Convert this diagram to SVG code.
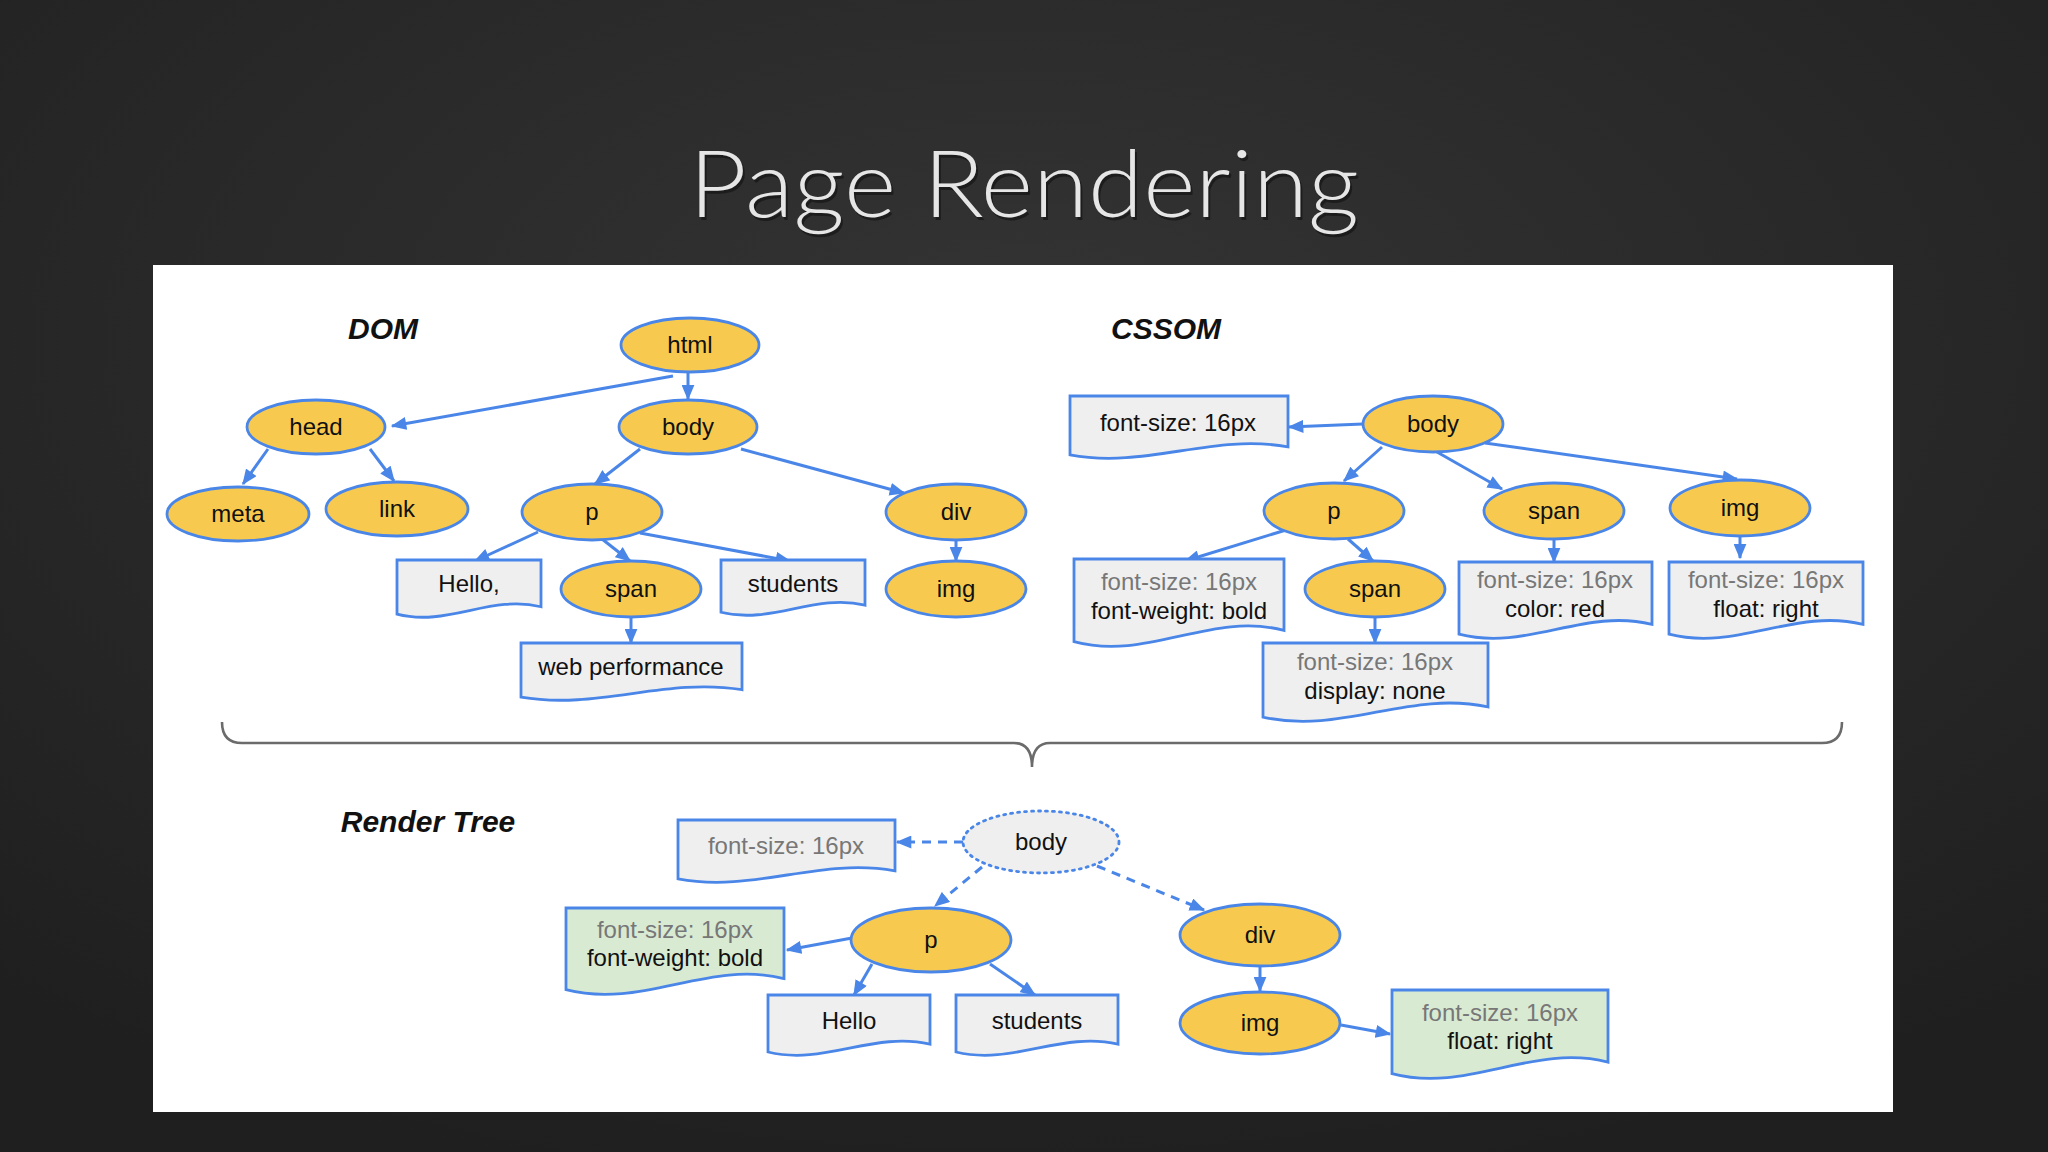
<svg xmlns="http://www.w3.org/2000/svg" xmlns:xlink="http://www.w3.org/1999/xlink" width="2048" height="1152" viewBox="0 0 2048 1152">
<style>
.node{fill:#f7ca4f;stroke:#4a86e8;stroke-width:2.8}
.lbl{font-family:"Liberation Sans",Arial,sans-serif;font-size:24px;fill:#111;text-anchor:middle}
.gray{fill:#777}
.hdr{font-family:"Liberation Sans",Arial,sans-serif;font-size:30px;font-weight:bold;font-style:italic;fill:#111;text-anchor:middle}
.edge{stroke:#4a86e8;stroke-width:3;fill:none;marker-end:url(#ah)}
.dash{stroke-dasharray:9 7}
.boxg{fill:#efefef}
.boxv{fill:#d9ead3}
</style>
<defs>
<radialGradient id="bg" cx="50%" cy="30%" r="75%">
<stop offset="0" stop-color="#343434"/>
<stop offset="1" stop-color="#1f1f1f"/>
</radialGradient>
<marker id="ah" viewBox="0 0 12 10" refX="11" refY="5" markerWidth="16" markerHeight="13" markerUnits="userSpaceOnUse" orient="auto">
<path d="M0,0 L12,5 L0,10 z" fill="#4a86e8"/>
</marker>
<path id="doc" d="M0,0 H100 V82 C65,60 35,118 0,95 Z" stroke="#4a86e8" stroke-width="2.8" vector-effect="non-scaling-stroke"/>
</defs>
<rect x="0" y="0" width="2048" height="1152" fill="url(#bg)"/>
<text x="1024" y="217" font-family="Lato,'Open Sans',sans-serif" font-weight="300" font-size="92" fill="#111" text-anchor="middle" opacity="0.6" transform="translate(2,3)" textLength="670" lengthAdjust="spacingAndGlyphs">Page Rendering</text>
<text x="1024" y="217" font-family="Lato,'Open Sans',sans-serif" font-weight="300" font-size="92" fill="#e6e6e6" text-anchor="middle" textLength="670" lengthAdjust="spacingAndGlyphs">Page Rendering</text>
<rect x="153" y="265" width="1740" height="847" fill="#ffffff"/>

<text class="hdr" x="383" y="339">DOM</text>
<text class="hdr" x="1166" y="339">CSSOM</text>
<text class="hdr" x="428" y="832">Render Tree</text>

<path d="M222,722 Q222,743 242,743 H1014 Q1032,743 1032,767 Q1032,743 1050,743 H1822 Q1842,743 1842,722" fill="none" stroke="#6b6b6b" stroke-width="2.6"/>

<g id="connectors">
<line class="edge" x1="673" y1="376" x2="392" y2="426"/>
<line class="edge" x1="688" y1="372" x2="688" y2="399"/>
<line class="edge" x1="268" y1="449" x2="243" y2="484"/>
<line class="edge" x1="370" y1="449" x2="394" y2="481"/>
<line class="edge" x1="640" y1="449" x2="595" y2="484"/>
<line class="edge" x1="741" y1="449" x2="904" y2="493"/>
<line class="edge" x1="538" y1="532" x2="475" y2="561"/>
<line class="edge" x1="602" y1="539" x2="630" y2="561"/>
<line class="edge" x1="640" y1="533" x2="790" y2="561"/>
<line class="edge" x1="956" y1="540" x2="956" y2="561"/>
<line class="edge" x1="631" y1="617" x2="631" y2="643"/>

<line class="edge" x1="1363" y1="424" x2="1289" y2="427"/>
<line class="edge" x1="1382" y1="447" x2="1344" y2="481"/>
<line class="edge" x1="1437" y1="452" x2="1502" y2="489"/>
<line class="edge" x1="1485" y1="443" x2="1737" y2="479"/>
<line class="edge" x1="1286" y1="530" x2="1185" y2="561"/>
<line class="edge" x1="1348" y1="539" x2="1373" y2="561"/>
<line class="edge" x1="1554" y1="539" x2="1554" y2="562"/>
<line class="edge" x1="1740" y1="536" x2="1740" y2="558"/>
<line class="edge" x1="1375" y1="617" x2="1375" y2="643"/>

<line class="edge dash" x1="963" y1="842" x2="897" y2="842"/>
<line class="edge dash" x1="982" y1="867" x2="935" y2="906"/>
<line class="edge dash" x1="1097" y1="866" x2="1204" y2="910"/>
<line class="edge" x1="852" y1="938" x2="787" y2="950"/>
<line class="edge" x1="872" y1="964" x2="854" y2="995"/>
<line class="edge" x1="990" y1="964" x2="1035" y2="995"/>
<line class="edge" x1="1260" y1="966" x2="1260" y2="991"/>
<line class="edge" x1="1341" y1="1025" x2="1390" y2="1034"/>
</g>

<!-- DOM -->
<g id="dom-html"><ellipse class="node" cx="690" cy="345" rx="69" ry="27"/><text class="lbl" x="690" y="353">html</text></g>
<g id="dom-head"><ellipse class="node" cx="316" cy="427" rx="69" ry="27"/><text class="lbl" x="316" y="435">head</text></g>
<g id="dom-body"><ellipse class="node" cx="688" cy="427" rx="69" ry="27"/><text class="lbl" x="688" y="435">body</text></g>
<g id="dom-meta"><ellipse class="node" cx="238" cy="514" rx="71" ry="27"/><text class="lbl" x="238" y="522">meta</text></g>
<g id="dom-link"><ellipse class="node" cx="397" cy="509" rx="71" ry="27"/><text class="lbl" x="397" y="517">link</text></g>
<g id="dom-p"><ellipse class="node" cx="592" cy="512" rx="70" ry="28"/><text class="lbl" x="592" y="520">p</text></g>
<g id="dom-div"><ellipse class="node" cx="956" cy="512" rx="70" ry="28"/><text class="lbl" x="956" y="520">div</text></g>
<g id="dom-span"><ellipse class="node" cx="631" cy="589" rx="70" ry="28"/><text class="lbl" x="631" y="597">span</text></g>
<g id="dom-img"><ellipse class="node" cx="956" cy="589" rx="70" ry="28"/><text class="lbl" x="956" y="597">img</text></g>
<g id="dom-hello"><use xlink:href="#doc" class="boxg" transform="translate(397,560) scale(1.44,0.57)"/><text class="lbl" x="469" y="592">Hello,</text></g>
<g id="dom-students"><use xlink:href="#doc" class="boxg" transform="translate(721,560) scale(1.44,0.55)"/><text class="lbl" x="793" y="592">students</text></g>
<g id="dom-webperf"><use xlink:href="#doc" class="boxg" transform="translate(521,643) scale(2.21,0.57)"/><text class="lbl" x="631" y="675">web performance</text></g>

<!-- CSSOM -->
<g id="css-body"><ellipse class="node" cx="1433" cy="424" rx="70" ry="28"/><text class="lbl" x="1433" y="432">body</text></g>
<g id="css-p"><ellipse class="node" cx="1334" cy="511" rx="70" ry="28"/><text class="lbl" x="1334" y="519">p</text></g>
<g id="css-span"><ellipse class="node" cx="1554" cy="511" rx="70" ry="28"/><text class="lbl" x="1554" y="519">span</text></g>
<g id="css-img"><ellipse class="node" cx="1740" cy="508" rx="70" ry="28"/><text class="lbl" x="1740" y="516">img</text></g>
<g id="css-span2"><ellipse class="node" cx="1375" cy="589" rx="70" ry="28"/><text class="lbl" x="1375" y="597">span</text></g>
<g id="css-fs"><use xlink:href="#doc" class="boxg" transform="translate(1070,396) scale(2.18,0.62)"/><text class="lbl" x="1178" y="431">font-size: 16px</text></g>
<g id="css-bold"><use xlink:href="#doc" class="boxg" transform="translate(1074,559) scale(2.10,0.87)"/><text class="lbl gray" x="1179" y="590">font-size: 16px</text><text class="lbl" x="1179" y="619">font-weight: bold</text></g>
<g id="css-red"><use xlink:href="#doc" class="boxg" transform="translate(1459,562) scale(1.93,0.76)"/><text class="lbl gray" x="1555" y="588">font-size: 16px</text><text class="lbl" x="1555" y="617">color: red</text></g>
<g id="css-float"><use xlink:href="#doc" class="boxg" transform="translate(1669,562) scale(1.94,0.76)"/><text class="lbl gray" x="1766" y="588">font-size: 16px</text><text class="lbl" x="1766" y="617">float: right</text></g>
<g id="css-none"><use xlink:href="#doc" class="boxg" transform="translate(1263,643) scale(2.25,0.78)"/><text class="lbl gray" x="1375" y="670">font-size: 16px</text><text class="lbl" x="1375" y="699">display: none</text></g>

<!-- Render tree -->
<g id="rt-body"><ellipse cx="1041" cy="842" rx="78" ry="31" fill="#efefef" stroke="#4a86e8" stroke-width="2.8" stroke-dasharray="2 5" stroke-linecap="round"/><text class="lbl" x="1041" y="850">body</text></g>
<g id="rt-p"><ellipse class="node" cx="931" cy="940" rx="80" ry="32"/><text class="lbl" x="931" y="948">p</text></g>
<g id="rt-div"><ellipse class="node" cx="1260" cy="935" rx="80" ry="31"/><text class="lbl" x="1260" y="943">div</text></g>
<g id="rt-img"><ellipse class="node" cx="1260" cy="1023" rx="80" ry="31"/><text class="lbl" x="1260" y="1031">img</text></g>
<g id="rt-fs"><use xlink:href="#doc" class="boxg" transform="translate(678,820) scale(2.17,0.62)"/><text class="lbl gray" x="786" y="854">font-size: 16px</text></g>
<g id="rt-bold"><use xlink:href="#doc" class="boxv" transform="translate(566,908) scale(2.18,0.86)"/><text class="lbl gray" x="675" y="938">font-size: 16px</text><text class="lbl" x="675" y="966">font-weight: bold</text></g>
<g id="rt-hello"><use xlink:href="#doc" class="boxg" transform="translate(768,995) scale(1.62,0.60)"/><text class="lbl" x="849" y="1029">Hello</text></g>
<g id="rt-students"><use xlink:href="#doc" class="boxg" transform="translate(956,995) scale(1.62,0.60)"/><text class="lbl" x="1037" y="1029">students</text></g>
<g id="rt-float"><use xlink:href="#doc" class="boxv" transform="translate(1392,990) scale(2.16,0.88)"/><text class="lbl gray" x="1500" y="1021">font-size: 16px</text><text class="lbl" x="1500" y="1049">float: right</text></g>
</svg>
